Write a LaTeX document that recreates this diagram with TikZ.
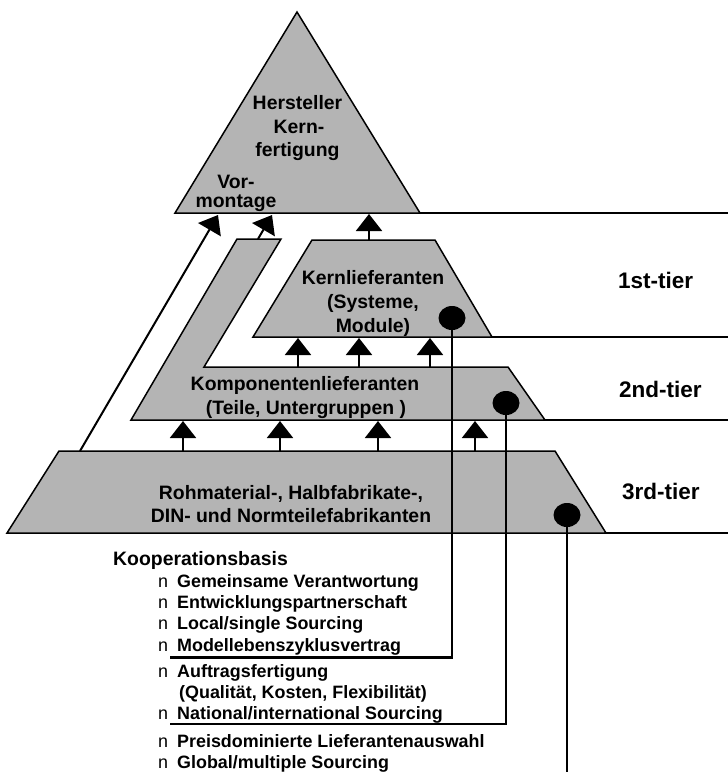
\documentclass[tikz,border=0pt]{standalone}
\usepackage{fontspec}
\setmainfont{Liberation Sans}
\usetikzlibrary{arrows.meta,shapes.geometric}
\definecolor{tierfill}{RGB}{180,180,180}
\begin{document}
\begin{tikzpicture}[x=1pt,y=-1pt,
  tierbox/.style={draw=black,fill=tierfill,line width=1.5pt,line join=miter},
  flow/.style={line width=2pt,-{Triangle[width=26pt,length=17pt]}},
  hline/.style={line width=1.5pt},
  tieline/.style={line width=2.5pt},
  tierdot/.style={ellipse,fill=black,inner sep=0pt,minimum width=27pt,minimum height=24pt},
  lbl/.style={font=\fontsize{19.4}{23}\selectfont\bfseries,inner sep=0pt,anchor=base},
  tierlabel/.style={font=\fontsize{22.5}{27}\selectfont\bfseries,inner sep=0pt,anchor=base west},
  listitem/.style={font=\fontsize{17.9}{21}\selectfont\bfseries,inner sep=0pt,anchor=base west},
  listbullet/.style={font=\fontsize{17.9}{21}\selectfont,inner sep=0pt,anchor=base west},
]
\useasboundingbox (0,0) rectangle (728,772);

% pyramid levels
\draw[tierbox] (175,213) coordinate (h-bl) -- (297,12) coordinate (h-top)
  -- (420,213) coordinate (h-br) -- cycle;
\draw[tierbox] (253,337) coordinate (k-bl) -- (312,240) coordinate (k-tl)
  -- (435,240) coordinate (k-tr) -- (492,337) coordinate (k-br) -- cycle;
\draw[tierbox] (131,420) coordinate (c-bl) -- (237,239) coordinate (c-armtl)
  -- (281,239) coordinate (c-armtr) -- (204,367) coordinate (c-inner)
  -- (508,367) coordinate (c-tr) -- (545,420) coordinate (c-br) -- cycle;
\draw[tierbox] (7,533) coordinate (r-bl) -- (59,451) coordinate (r-tl)
  -- (555,451) coordinate (r-tr) -- (606,533) coordinate (r-br) -- cycle;

% tier boundary rules
\coordinate (e1) at (728,213);
\coordinate (e2) at (728,337);
\coordinate (e3) at (728,420);
\coordinate (e4) at (728,533);
\draw[hline] (h-br) -- (e1);
\draw[hline] (k-br) -- (e2);
\draw[hline] (c-br) -- (e3);
\draw[hline] (r-br) -- (e4);

% supply arrows
\coordinate (a0s) at (369,240); \coordinate (a0e) at (369,214);
\draw[flow] (a0s) -- (a0e);
\foreach \x [count=\i] in {298,359,430}{
  \coordinate (ks\i) at (\x,367); \coordinate (ke\i) at (\x,338);
  \draw[flow] (ks\i) -- (ke\i);
}
\foreach \x [count=\i] in {183,280,378,475}{
  \coordinate (rs\i) at (\x,451); \coordinate (re\i) at (\x,421);
  \draw[flow] (rs\i) -- (re\i);
}
\coordinate (d1s) at (80,451);  \coordinate (d1e) at (218,215);
\coordinate (d2s) at (258,239); \coordinate (d2e) at (272,215);
\draw[flow] (d1s) -- (d1e);
\draw[flow] (d2s) -- (d2e);

% texts in the levels
\node[lbl] (t-h1) at (297.5,109) {Hersteller};
\node[lbl] (t-h2) at (299,133) {Kern-};
\node[lbl] (t-h3) at (297.5,156) {fertigung};
\node[lbl] (t-v1) at (236,188) {Vor-};
\node[lbl] (t-v2) at (236,207) {montage};
\node[lbl] (t-k1) at (373,284) {Kernlieferanten};
\node[lbl] (t-k2) at (373,308) {(Systeme,};
\node[lbl] (t-k3) at (373,332) {Module)};
\node[lbl] (t-c1) at (305,390) {Komponentenlieferanten};
\node[lbl] (t-c2) at (306,414) {(Teile, Untergruppen )};
\node[lbl] (t-r1) at (291,499) {Rohmaterial-, Halbfabrikate-,};
\node[lbl] (t-r2) at (291,522) {DIN- und Normteilefabrikanten};

% tier labels
\node[tierlabel] (tier1) at (618,288) {1st-tier};
\node[tierlabel] (tier2) at (619,397) {2nd-tier};
\node[tierlabel] (tier3) at (622,499) {3rd-tier};

% cooperation basis list
\node[lbl,anchor=base west] (kb) at (113,565) {Kooperationsbasis};
\foreach \y [count=\i] in {587,608,629.5,651,677,719.5,747,768}{
  \node[listbullet] (b\i) at (158,\y) {n};
}
\node[listitem] (li1) at (177,587)   {Gemeinsame Verantwortung};
\node[listitem] (li2) at (177,608)   {Entwicklungspartnerschaft};
\node[listitem] (li3) at (177,629.5) {Local/single Sourcing};
\node[listitem] (li4) at (177,651)   {Modellebenszyklusvertrag};
\node[listitem] (li5) at (177,677)   {Auftragsfertigung};
\node[listitem] (li-q) at (179,698)  {(Qualität, Kosten, Flexibilität)};
\node[listitem] (li6) at (177,719.5) {National/international Sourcing};
\node[listitem] (li7) at (177,747)   {Preisdominierte Lieferantenauswahl};
\node[listitem] (li8) at (177,768)   {Global/multiple Sourcing};

% markers and their links to the list
\node[tierdot] (dk) at (452,318) {};
\node[tierdot] (dc) at (506,403) {};
\node[tierdot] (dr) at (567,515) {};
\coordinate (lk) at (170,657.5);
\coordinate (lc) at (170,724);
\coordinate (lr) at (567,772);
\draw[tieline] (dk.center) |- (lk);
\draw[tieline] (dc.center) |- (lc);
\draw[tieline] (dr.center) -- (lr);
\end{tikzpicture}
\end{document}
